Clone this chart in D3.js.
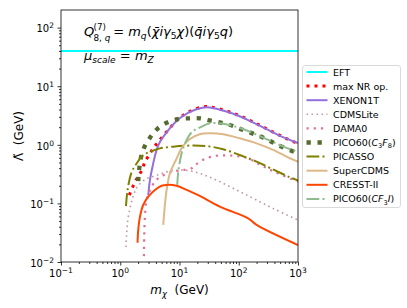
<!DOCTYPE html>
<html>
<head>
<meta charset="utf-8">
<script src="https://cdn.jsdelivr.net/npm/d3@7"></script>
<style>
  body { margin: 0; background: #fff; }
  svg { font-family: "DejaVu Sans", sans-serif; }
</style>
</head>
<body>
<svg id="chart" width="407" height="308"></svg>
<script>
// curves, [m_chi (GeV), Lambda (GeV)]
const eft = [[0.1, 40], [1000, 40]];
const maxNR = [[1.42, 0.139], [1.59, 0.181], [1.77, 0.235], [2.09, 0.305], [2.39, 0.397], [2.61, 0.515], [3.08, 0.67], [3.6, 0.87], [4.37, 1.12], [6.3, 1.74], [9.3, 2.68], [14.2, 3.63], [25.8, 4.47], [34, 4.4], [62, 3.78], [106, 3.1], [180, 2.42], [301, 1.86], [519, 1.41], [1000, 1.05]];
const xenon1t = [[2.97, 0.139], [3.17, 0.25], [3.6, 0.48], [4.11, 0.82], [4.67, 1.12], [6.3, 1.72], [9.3, 2.65], [14.2, 3.55], [25.8, 4.35], [34, 4.3], [62, 3.7], [106, 3.04], [180, 2.36], [301, 1.83], [519, 1.39], [1000, 1.07]];
const cdmslite = [[1.25, 0.018], [1.28, 0.029], [1.33, 0.049], [1.45, 0.08], [1.6, 0.12], [1.77, 0.16], [2.0, 0.2], [2.7, 0.26], [4.1, 0.3], [6.06, 0.345], [9.4, 0.37], [15, 0.36], [25, 0.31], [42, 0.25], [71, 0.193], [119, 0.149], [200, 0.114], [380, 0.082], [1000, 0.052]];
const dama0 = [[2.51, 0.0126], [2.54, 0.027], [2.61, 0.059], [2.79, 0.114], [3.39, 0.193], [4.37, 0.268], [6.45, 0.327], [10.2, 0.364], [16, 0.397], [19.4, 0.47], [28.6, 0.59], [42.2, 0.65], [62, 0.66], [92, 0.644], [144, 0.59], [227, 0.46], [406, 0.344], [1000, 0.237]];
const pico60c3f8 = [[2.01, 0.24], [2.09, 0.386], [2.23, 0.6], [2.54, 0.905], [3.17, 1.32], [4.2, 1.86], [6.06, 2.38], [9.4, 2.75], [15, 2.83], [22, 2.83], [34, 2.58], [54.6, 2.33], [80.5, 2.09], [119, 1.79], [187, 1.51], [275, 1.29], [406, 1.06], [615, 0.87], [1000, 0.72]];
const picasso = [[1.25, 0.09], [1.33, 0.17], [1.56, 0.344], [1.89, 0.48], [2.44, 0.67], [3.17, 0.76], [4.67, 0.87], [7.83, 0.93], [15, 0.97], [28.6, 0.95], [54.6, 0.84], [104, 0.67], [200, 0.515], [380, 0.38], [728, 0.279], [1000, 0.246]];
const supercdms = [[5.31, 0.043], [6.06, 0.17], [6.89, 0.327], [8.7, 0.55], [10.8, 0.87], [14.6, 1.24], [22, 1.51], [32.6, 1.57], [54.6, 1.51], [104, 1.29], [200, 1.06], [380, 0.82], [728, 0.59], [1000, 0.515]];
const cresst = [[1.96, 0.0213], [2.01, 0.035], [2.15, 0.059], [2.44, 0.094], [2.97, 0.13], [3.85, 0.17], [4.99, 0.2], [6.06, 0.207], [8.93, 0.2], [13.2, 0.17], [22, 0.134], [48, 0.088], [144, 0.0557], [200, 0.043], [1000, 0.0195]];
const pico60cf3i = [[9.15, 0.206], [9.4, 0.3], [9.89, 0.45], [11.5, 0.87], [16, 1.63], [23.6, 2.04], [32.6, 2.33], [54.6, 2.28], [104, 1.94], [227, 1.41], [493, 0.99], [1000, 0.75]];

const xMajor = [0.1, 1, 10, 100, 1000];
const xExp = ['\u22121', '0', '1', '2', '3'];
const yMajor = [0.01, 0.1, 1, 10, 100];
const yExp = ['\u22122', '\u22121', '0', '1', '2'];

const series = [
  {data: eft, color: '#00ffff', width: 2, dash: null, label: [['EFT']]},
  {data: maxNR, color: '#ff0000', width: 3, dash: '3,5', label: [['max NR op.']]},
  {data: xenon1t, color: '#9370db', width: 2, dash: null, label: [['XENON1T']]},
  {data: cdmslite, color: '#c39a9f', width: 1.6, dash: '1.6,3.4', label: [['CDMSLite']]},
  {data: dama0, color: '#de6f98', width: 2.2, dash: '2.2,5', label: [['DAMA0']]},
  {data: pico60c3f8, color: '#556b2f', width: 4.3, dash: '4.3,6.7', label: [['PICO60('], ['C', 'i'], ['3', 's'], ['F', 'i'], ['8', 's'], [')']]},
  {data: picasso, color: '#808000', width: 2, dash: '12.8,3.2,2,3.2', label: [['PICASSO']]},
  {data: supercdms, color: '#deb887', width: 2, dash: null, label: [['SuperCDMS']]},
  {data: cresst, color: '#ff4500', width: 2, dash: null, label: [['CRESST-II']]},
  {data: pico60cf3i, color: '#8fbc8f', width: 2, dash: '12.8,3.2,2,3.2', label: [['PICO60('], ['CF', 'i'], ['3', 's'], ['I', 'i'], [')']]}
];

const svg = d3.select('#chart');
const pL = 61, pR = 298, pT = 10, pB = 262;

const x = d3.scaleLog().domain([0.1, 1000]).range([pL, pR]);
const y = d3.scaleLog().domain([0.01, 200]).range([pB, pT]);

function minors(lo, hi) {
  let out = [];
  for (let d = lo; d < hi; d *= 10)
    for (let k = 2; k < 10; k++) if (d * k < hi) out.push(d * k);
  return out;
}

svg.append('clipPath').attr('id', 'clip')
  .append('rect').attr('x', pL).attr('y', pT).attr('width', pR - pL).attr('height', pB - pT);

// axes
const xAxis = svg.append('g').attr('transform', `translate(0,${pB})`);
xAxis.call(d3.axisBottom(x).tickValues(xMajor).tickSize(3.5).tickFormat(''));
xAxis.append('g').call(d3.axisBottom(x).tickValues(minors(0.1, 1000)).tickSize(2).tickFormat(''));
const yAxis = svg.append('g').attr('transform', `translate(${pL},0)`);
yAxis.call(d3.axisLeft(y).tickValues(yMajor).tickSize(3.5).tickFormat(''));
yAxis.append('g').call(d3.axisLeft(y).tickValues(minors(0.01, 200)).tickSize(2).tickFormat(''));
svg.selectAll('.domain').remove();
svg.selectAll('.tick line').attr('stroke', '#000').attr('stroke-width', 0.8);

svg.append('g').selectAll('text').data(xMajor).join('text')
  .attr('x', d => x(d)).attr('y', pB + 15).attr('text-anchor', 'middle').attr('font-size', 10)
  .each(function (d, i) {
    const t = d3.select(this);
    t.append('tspan').text('10');
    t.append('tspan').attr('dy', -4).attr('font-size', 7.5).text(xExp[i]);
  });
svg.append('g').selectAll('text').data(yMajor).join('text')
  .attr('x', pL - 7).attr('y', d => y(d) + 4.8).attr('text-anchor', 'end').attr('font-size', 10)
  .each(function (d, i) {
    const t = d3.select(this);
    t.append('tspan').text('10');
    t.append('tspan').attr('dy', -4).attr('font-size', 7.5).text(yExp[i]);
  });

// curves
const line = d3.line().x(d => x(d[0])).y(d => y(d[1])).curve(d3.curveCatmullRom.alpha(0.5));
svg.append('g').attr('clip-path', 'url(#clip)')
  .selectAll('path').data(series).join('path')
  .attr('d', d => line(d.data))
  .attr('fill', 'none')
  .attr('stroke', d => d.color)
  .attr('stroke-width', d => d.width)
  .attr('stroke-dasharray', d => d.dash)
  .attr('stroke-linecap', 'butt');

// frame
svg.append('rect').attr('x', pL).attr('y', pT).attr('width', pR - pL).attr('height', pB - pT)
  .attr('fill', 'none').attr('stroke', '#000').attr('stroke-width', 0.8);

// text with italic / subscript pieces
function rich(t, parts, size) {
  let shift = 0;
  parts.forEach(p => {
    const s = t.append('tspan').text(p[0]);
    const f = p[1] || '';
    if (f.includes('i')) s.attr('font-style', 'italic');
    let want = f.includes('s') ? 2.6 * size / 10 : 0;
    if (want !== shift) { s.attr('dy', want - shift); shift = want; }
    if (f.includes('s')) s.attr('font-size', size * 0.7);
  });
}
const ann = svg.append('g').attr('font-size', 13);
ann.append('text').attr('x', 84).attr('y', 36).attr('font-style', 'italic').text('Q');
ann.append('text').attr('x', 93.5).attr('y', 29.5).attr('font-size', 8.8).text('(7)');
ann.append('text').attr('x', 93.5).attr('y', 40.5).attr('font-size', 8.8)
  .call(t => { t.append('tspan').text('8,\u00a0'); t.append('tspan').attr('font-style', 'italic').text('q'); });
rich(ann.append('text').attr('x', 109).attr('y', 36),
  [['\u00a0=\u00a0'], ['m', 'i'], ['q', 'is'], ['('], ['\u03c7\u0304i\u03b3', 'i'], ['5', 's'], ['\u03c7', 'i'], [')('], ['q\u0304i\u03b3', 'i'], ['5', 's'], ['q', 'i'], [')']], 13);
rich(ann.append('text').attr('x', 84).attr('y', 59.5),
  [['\u03bc', 'i'], ['scale', 'is'], ['\u00a0=\u00a0'], ['m', 'i'], ['Z', 'is']], 13);

// axis labels
rich(svg.append('text').attr('x', (pL + pR) / 2).attr('y', 294).attr('text-anchor', 'middle').attr('font-size', 12),
  [['m', 'i'], ['\u03c7', 'is'], ['\u00a0\u00a0(GeV)']], 12);
svg.append('text').attr('transform', `translate(22.5,${(pT + pB) / 2}) rotate(-90)`)
  .attr('text-anchor', 'middle').attr('font-size', 12).text('\u039b\u0303\u00a0\u00a0(GeV)');

// legend
const lg = svg.append('g');
lg.append('rect').attr('x', 302.5).attr('y', 65.5).attr('width', 98).attr('height', 142).attr('rx', 2.5)
  .attr('fill', '#fff').attr('fill-opacity', 0.8).attr('stroke', '#d0d0d0').attr('stroke-width', 0.8);
const item = lg.selectAll('g.item').data(series).join('g').attr('class', 'item')
  .attr('transform', (d, i) => `translate(0,${72 + i * 14.1})`);
item.append('line').attr('x1', 306.5).attr('x2', 327.5)
  .attr('stroke', d => d.color).attr('stroke-width', d => d.width).attr('stroke-dasharray', d => d.dash);
item.append('text').attr('x', 333).attr('y', 3.5).attr('font-size', 9.5)
  .each(function (d) { rich(d3.select(this), d.label, 9.5); });
</script>
</body>
</html>
